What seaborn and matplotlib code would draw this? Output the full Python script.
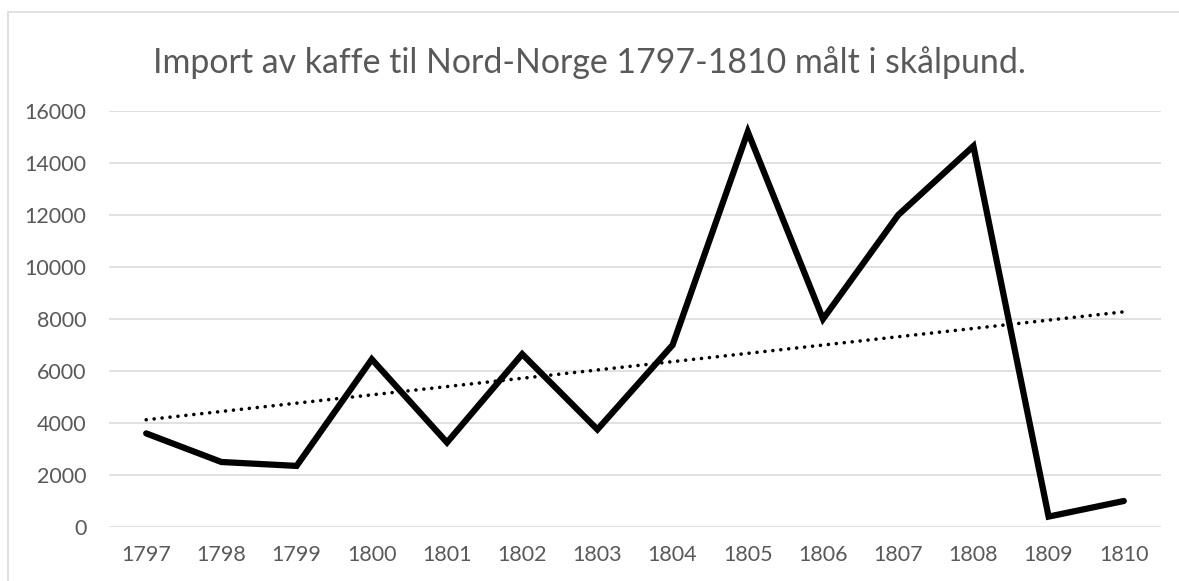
import numpy as np
import pandas as pd
import matplotlib
matplotlib.use("Agg")
import matplotlib.pyplot as plt
import seaborn as sns
from matplotlib.patches import Rectangle

years = [1797, 1798, 1799, 1800, 1801, 1802, 1803, 1804, 1805, 1806, 1807, 1808, 1809, 1810]
pounds = [3600, 2500, 2350, 6450, 3250, 6650, 3750, 7000, 15200, 8000, 12000, 14650, 400, 1000]
y_ticks = [0, 2000, 4000, 6000, 8000, 10000, 12000, 14000, 16000]
title = "Import av kaffe til Nord-Norge 1797-1810 målt i skålpund."

TEXT = "#595959"
GRID = "#d9d9d9"

df = pd.DataFrame({"year": years, "pounds": pounds})

sns.set_theme(style="white")
plt.rcParams["font.family"] = ["Lato", "DejaVu Sans"]

W, H = 1179, 581
fig = plt.figure(figsize=(W / 100, H / 100), dpi=100)
ax = fig.add_axes([108.6 / W, 1 - 527 / H, (1161.4 - 108.6) / W, (527 - 111) / H])

# outer chart frame
fig.patches.append(Rectangle((8 / W, -0.05), 1.1, 1 - 12 / H + 0.05, transform=fig.transFigure,
                             fill=False, edgecolor=GRID, linewidth=1.1, zorder=0))

sns.lineplot(data=df, x="year", y="pounds", color="black", linewidth=4.5, ax=ax,
             solid_joinstyle="miter", zorder=3)
sns.regplot(data=df, x="year", y="pounds", scatter=False, ci=None, truncate=True, ax=ax,
            line_kws=dict(color="black", linewidth=2.6, linestyle=(0, (0.01, 2.2)),
                          dash_capstyle="round", zorder=4))

ax.set_xlim(1796.5, 1810.5)
ax.set_ylim(0, 16000)
ax.set_xticks(years)
ax.set_xticklabels([str(y) for y in years])
ax.set_yticks(y_ticks)
ax.set_yticklabels([str(v) for v in y_ticks])
ax.grid(axis="y", color=GRID, linewidth=1.1)
ax.set_axisbelow(True)
for s in ax.spines.values():
    s.set_visible(False)
ax.tick_params(axis="both", length=0, labelsize=15.5, labelcolor=TEXT)
ax.tick_params(axis="y", pad=16)
ax.tick_params(axis="x", pad=13)
ax.set_xlabel("")
ax.set_ylabel("")

fig.text(0.5, 1 - 63 / H, title, ha="center", va="center", fontsize=24.4, color=TEXT)

fig.savefig("out.png", dpi=100)
